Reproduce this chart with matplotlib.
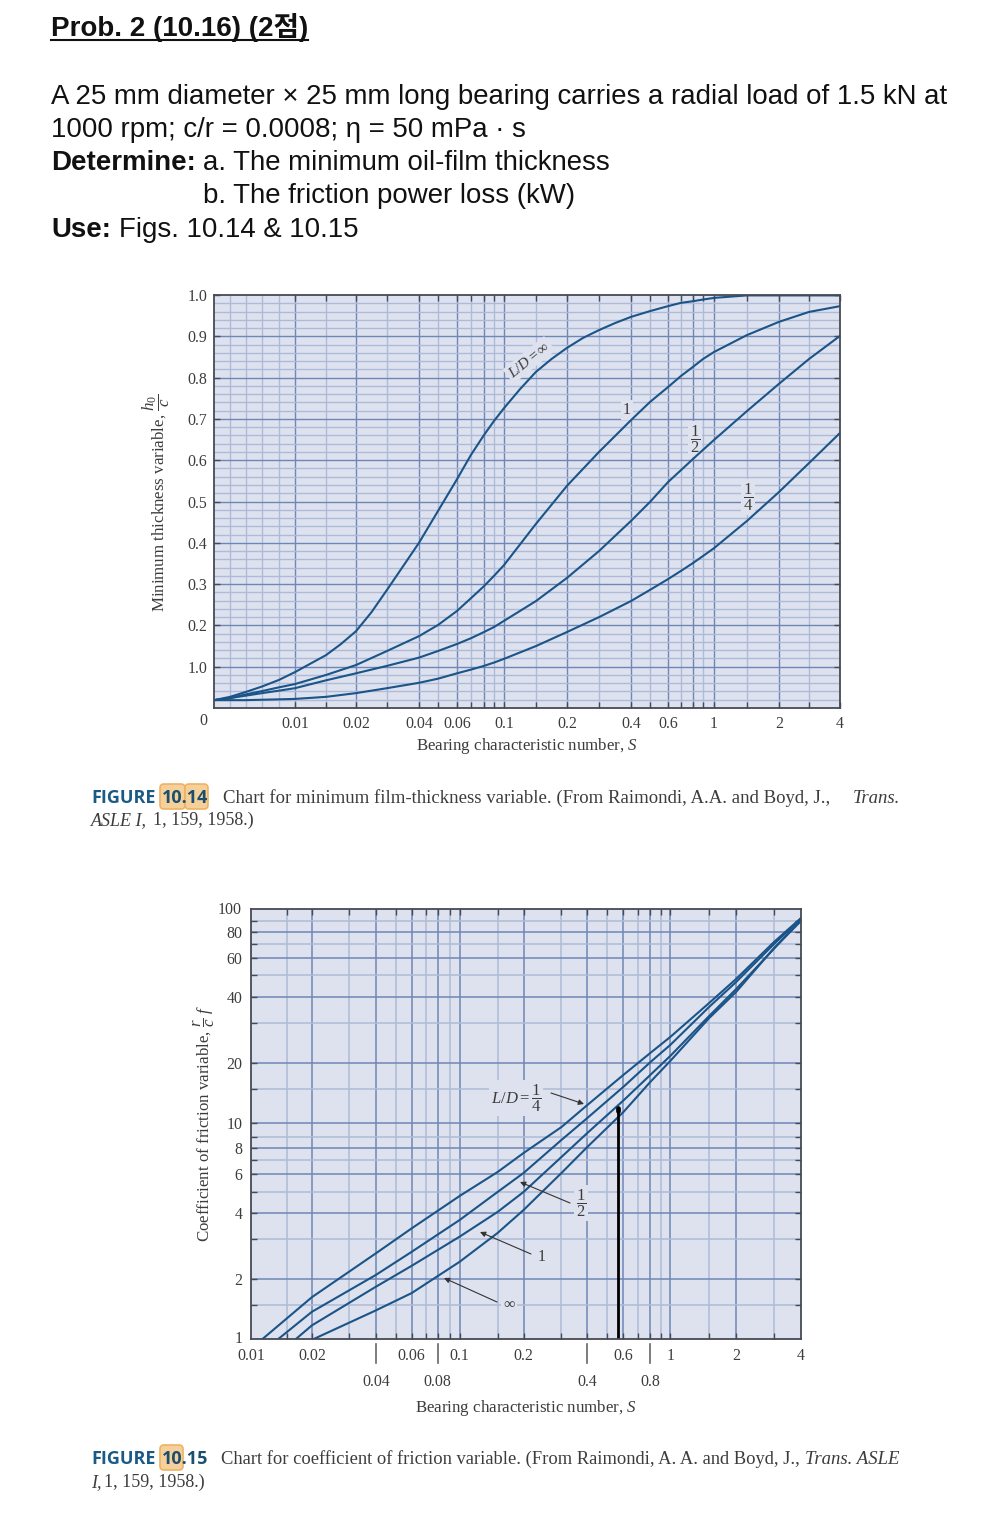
import numpy as np
import matplotlib
matplotlib.use('Agg')
import matplotlib.pyplot as plt
from matplotlib.patches import FancyBboxPatch

plt.rcParams['font.family'] = ['Liberation Serif', 'DejaVu Sans']
plt.rcParams['mathtext.fontset'] = 'custom'
plt.rcParams['mathtext.rm'] = 'Liberation Serif'
plt.rcParams['mathtext.it'] = 'Liberation Serif:italic'
plt.rcParams['mathtext.bf'] = 'Liberation Serif:bold'

# ---------- Figure 10.14 data ----------
S_GRID = [0, .002, .004, .006, .008, .01, .015, .02, .03, .04, .05, .06, .07, .08, .09, .1,
          .15, .2, .3, .4, .5, .6, .7, .8, .9, 1, 1.5, 2, 3, 4]
S_PIXEL = [214, 230, 246, 262, 279, 295, 326, 356, 387, 419, 438, 457, 471, 484, 494, 504,
           536, 567, 599, 631, 650, 668, 681, 693, 703, 714, 747, 779, 809, 840]
S_FINE = [0, .002, .004, .006, .008, .01, .015, .0175, .02, .025, .03, .035, .04, .05, .06, .07, .08, .09, .1,
          .125, .15, .175, .2, .25, .3, .35, .4, .5, .6, .7, .8, .9, 1, 1.5, 2, 3, 4]
HMIN_INF = [.019, .027, .039, .052, .068, .087, .128, .155, .186, .232, .286, .343, .4, .477, .554, .613, .661, .695, .726,
            .772, .814, .845, .872, .896, .915, .932, .947, .961, .973, .981, .985, .989, .993, .999, .999, .999, .999]
HMIN_ONE = [.019, .024, .033, .041, .05, .058, .08, .104, .138, .174, .201, .235, .266, .295, .32, .346,
            .446, .538, .62, .697, .741, .777, .804, .826, .845, .862, .903, .935, .959, .973]
HMIN_HALF = [.019, .024, .03, .036, .042, .048, .067, .084, .102, .122, .138, .155, .169, .184, .196, .211,
             .259, .315, .38, .453, .499, .547, .576, .603, .625, .649, .719, .785, .845, .901]
HMIN_QUARTER = [.019, .019, .019, .02, .021, .022, .027, .036, .048, .061, .071, .084, .093, .102, .11, .119,
                .15, .184, .22, .259, .286, .312, .332, .351, .368, .387, .453, .523, .593, .666]
H_TICKS = [.1, .2, .3, .4, .5, .6, .7, .8, .9, 1.0]
H_TICK_LABELS = ['1.0', '0.2', '0.3', '0.4', '0.5', '0.6', '0.7', '0.8', '0.9', '1.0']
S1_TICKS = [.01, .015, .02, .03, .04, .05, .06, .07, .08, .09, .1, .15, .2, .3, .4, .5, .6, .7, .8, .9, 1, 1.5, 2, 3, 4]
S1_LABELLED = {.01: '0.01', .02: '0.02', .04: '0.04', .06: '0.06', .1: '0.1', .2: '0.2', .4: '0.4',
               .6: '0.6', 1: '1', 2: '2', 4: '4'}
S1_DARK = [.01, .02, .04, .06, .08, .1, .2, .4, .6, .8, 1, 2]

# ---------- Figure 10.15 data ----------
S2_GRID = [.01, .015, .02, .03, .04, .05, .06, .07, .08, .09, .1, .15, .2, .3, .4, .5, .6, .7, .8, .9, 1, 1.5, 2, 3, 4]
S2_PIXEL = [251, 287, 312, 349, 376, 396, 412, 426, 438, 450, 460, 498, 524, 562, 588, 608, 624, 639, 651, 662, 671, 710, 737, 775, 802]
F_GRID = [1, 1.5, 2, 3, 4, 5, 6, 7, 8, 9, 10, 15, 20, 30, 40, 50, 60, 70, 80, 90, 100]
F_PIXEL = [1339, 1305, 1279, 1239, 1213, 1192, 1174, 1160, 1148, 1137, 1123, 1089, 1063, 1023, 997, 975, 958, 944, 932, 921, 909]
F_DARK = [2, 4, 6, 8, 10, 20, 40, 60, 80]
S2_DARK = [.02, .04, .06, .08, .1, .2, .4, .6, .8, 1, 2]
F_LABELS = {1: '1', 2: '2', 4: '4', 6: '6', 8: '8', 10: '10', 20: '20', 40: '40', 60: '60', 80: '80', 100: '100'}
S2_ROW1 = {.01: '0.01', .02: '0.02', .06: '0.06', .1: '0.1', .2: '0.2', .6: '0.6', 1: '1', 2: '2', 4: '4'}
S2_ROW2 = {.04: '0.04', .08: '0.08', .4: '0.4', .8: '0.8'}

S_TAIL = [.04, .06, .1, .15, .2, .3, .4, .6, .8, 1, 1.5, 2, 3, 4]
S_QUARTER = [.0116, .02] + S_TAIL
F_QUARTER = [1, 1.65, 2.64, 3.41, 4.81, 6.14, 7.58, 9.71, 12.65, 17.7, 22.5, 26.5, 37.7, 48.2, 71.7, 92.5]
S_HALF = [.0138, .02] + S_TAIL
F_HALF = [1, 1.4, 2.1, 2.68, 3.73, 5, 6.07, 8.73, 10.74, 15.4, 20.2, 24.5, 36.2, 46.8, 70, 91.7]
S_ONE = [.0168, .02] + S_TAIL
F_ONE = [1, 1.2, 1.85, 2.33, 3.09, 4.05, 5, 7.25, 9.29, 13.3, 17.7, 21.75, 32.7, 43.6, 66.7, 90.8]
S_INF = [.0205] + S_TAIL
F_INF = [1, 1.42, 1.73, 2.43, 3.23, 4.14, 6.07, 8.1, 11.6, 16.35, 20.5, 31.9, 42.3, 67.1, 90]
MARK_S = [.565, .565]
MARK_F = [1, 11.9]
MARK_TOP = [11.7, 12.2]

# ---------- styles ----------
BG = '#dde2ee'
DARK = '#6f86b6'
LIGHT = '#aebad7'
CURVE = '#1b5488'
FRAME = '#454a55'
INK = '#3c3c3c'
W, H = 1000, 1520

fig = plt.figure(figsize=(W / 100, H / 100), dpi=100, facecolor='white')


def piecewise(values, pixels):
    values = np.array(values, float)
    pixels = np.array(pixels, float)
    return (lambda v: np.interp(v, values, pixels),
            lambda p: np.interp(p, pixels, values))


def style(ax):
    ax.set_facecolor(BG)
    for sp in ax.spines.values():
        sp.set_color(FRAME)
        sp.set_linewidth(1.3)
        sp.set_zorder(6)
    ax.tick_params(which='major', direction='in', top=True, right=True, length=4.6, width=1.0,
                   color=FRAME, labelcolor=INK, labelsize=11.4)


# ---------- overlay for text ----------
ov = fig.add_axes([0, 0, 1, 1], zorder=10)
ov.set_xlim(0, W)
ov.set_ylim(H, 0)
ov.axis('off')

# ---------- chart 1 ----------
ax1 = fig.add_axes([214 / W, 1 - 708 / H, 626 / W, 413 / H])
ax1.set_xscale('function', functions=piecewise(S_GRID, S_PIXEL))
ax1.set_xlim(0, 4)
ax1.set_ylim(0, 1)
style(ax1)
for s in S_GRID[1:-1]:
    ax1.axvline(s, color=DARK if s in S1_DARK else LIGHT, lw=1.0, zorder=1)
for h in np.arange(2, 100, 2) / 100:
    major = abs(h * 10 - round(h * 10)) < 1e-6
    ax1.axhline(h, color=DARK if major else LIGHT, lw=1.0, zorder=1)
ax1.set_xticks(S1_TICKS)
ax1.set_xticklabels([S1_LABELLED.get(s, '') for s in S1_TICKS])
ax1.set_yticks(H_TICKS)
ax1.set_yticklabels(H_TICK_LABELS)
ax1.tick_params(axis='x', pad=6)
ax1.tick_params(axis='y', pad=5)
ax1.plot(S_FINE, HMIN_INF, color=CURVE, lw=1.5, zorder=4)
for series in (HMIN_ONE, HMIN_HALF, HMIN_QUARTER):
    ax1.plot(S_GRID, series, color=CURVE, lw=1.5, zorder=4)


def lab(ax, x, y, s, size=11, rot=0):
    ax.text(x, y, s, transform=ov.transData, fontsize=size, rotation=rot, rotation_mode='anchor',
            ha='center', va='center', color=INK, zorder=3,
            bbox=dict(facecolor=BG, edgecolor='none', pad=1.5))


lab(ax1, 529, 360, r'$L/D = \infty$', 11, 39)
lab(ax1, 627, 410, '1', 11.5)
lab(ax1, 695, 439, r'$\dfrac{1}{2}$', 12)
lab(ax1, 748, 497, r'$\dfrac{1}{4}$', 12)

ov.text(203, 721, '0', fontsize=11.4, color=INK, ha='center', va='center')
ov.text(527, 746, r'Bearing characteristic number, $S$', fontsize=12.2, color=INK, ha='center', va='center')
ov.text(156, 503, r'Minimum thickness variable, $\dfrac{h_0}{c}$', fontsize=12.2, color=INK,
        rotation=90, ha='center', va='center')

# ---------- chart 2 ----------
ax2 = fig.add_axes([251 / W, 1 - 1339 / H, 550 / W, 430 / H])
ax2.set_xscale('function', functions=piecewise(S2_GRID, S2_PIXEL))
ax2.set_yscale('function', functions=piecewise(F_GRID, [1339 - p for p in F_PIXEL]))
ax2.set_xlim(.01, 4)
ax2.set_ylim(1, 100)
style(ax2)
for s in S2_GRID[1:-1]:
    ax2.axvline(s, color=DARK if s in S2_DARK else LIGHT, lw=1.1, zorder=1)
for f in F_GRID[1:-1]:
    ax2.axhline(f, color=DARK if f in F_DARK else LIGHT, lw=1.1, zorder=1)
ax2.set_xticks(S2_GRID[1:-1])
ax2.set_xticklabels([''] * len(S2_GRID[1:-1]))
ax2.set_yticks(F_GRID[1:-1])
ax2.set_yticklabels([F_LABELS.get(f, '') for f in F_GRID[1:-1]])
ax2.tick_params(axis='y', pad=6)
trans = ax2.get_xaxis_transform()
for s, t in S2_ROW1.items():
    ax2.text(s, -16.5 / 430, t, transform=trans, ha='center', va='center', fontsize=11.4, color=INK, clip_on=False)
for s, t in S2_ROW2.items():
    ax2.plot([s, s], [-5 / 430, -24 / 430], transform=trans, color='#666666', lw=1.2, clip_on=False)
    ax2.text(s, -42.5 / 430, t, transform=trans, ha='center', va='center', fontsize=11.4, color=INK, clip_on=False)
ov.text(239, 1339, '1', fontsize=11.4, color=INK, ha='center', va='center')
ov.text(230, 910, '100', fontsize=11.4, color=INK, ha='center', va='center')
for sx, fy in ((S_QUARTER, F_QUARTER), (S_HALF, F_HALF), (S_ONE, F_ONE), (S_INF, F_INF)):
    ax2.plot(sx, fy, color=CURVE, lw=1.5, zorder=4)
ax2.plot(MARK_S, MARK_F, color='black', lw=2.0, zorder=5, solid_capstyle='butt')
ax2.plot(MARK_S, MARK_TOP, color='black', lw=3.4, zorder=5, solid_capstyle='round')

lab(ax2, 516, 1098, r'$L/D = \dfrac{1}{4}$', 12)
lab(ax2, 581, 1203, r'$\dfrac{1}{2}$', 12)
lab(ax2, 542, 1257, '1', 11.5)
lab(ax2, 509, 1303, r'$\infty$', 11.5)
for tail, tip in (((551, 1093), (584, 1104)), ((570, 1203), (520, 1182)),
                  ((531, 1254), (480, 1232)), ((497, 1302), (444, 1278))):
    ov.annotate('', xy=tip, xytext=tail,
                arrowprops=dict(arrowstyle='-|>', lw=0.8, color='#333333', shrinkA=0, shrinkB=0, mutation_scale=8))

ov.text(526, 1408, r'Bearing characteristic number, $S$', fontsize=12.2, color=INK, ha='center', va='center')
ov.text(204, 1123, r'Coefficient of friction variable, $\dfrac{r}{c}\ f$', fontsize=12.2, color=INK,
        rotation=90, ha='center', va='center')

# ---------- header ----------
SANS = ['Liberation Sans', 'Noto Sans CJK KR', 'DejaVu Sans']


def head(x, y, s, bold=False, size=19.9):
    ov.text(x, y, s, family=SANS, fontsize=size, fontweight='bold' if bold else 'normal',
            color='#111111', ha='left', va='baseline')


head(51, 36, 'Prob. 2 (10.16) (2점)', True, 20)
ov.plot([51, 308], [40, 40], color='#111111', lw=1.5)
head(51, 104, 'A 25 mm diameter × 25 mm long bearing carries a radial load of 1.5 kN at')
head(51, 137, '1000 rpm; c/r = 0.0008; η = 50 mPa · s')
head(51, 170, 'Determine:', True)
head(203, 170, 'a. The minimum oil-film thickness')
head(203, 203, 'b. The friction power loss (kW)')
head(51, 237, 'Use:', True)
head(119, 237, 'Figs. 10.14 & 10.15')


# ---------- captions ----------
def hl(x0, x1, y0, y1):
    ov.add_patch(FancyBboxPatch((x0 + 3, y0 + 3), x1 - x0 - 6, y1 - y0 - 6,
                                boxstyle='round,pad=3,rounding_size=4',
                                facecolor='#f6d09a', edgecolor='#efb262', lw=1.2, zorder=0))


CAP = 13.5


def caption(y1, num, body, bx, tail, tx, size=CAP):
    ov.text(91, y1, 'FIGURE', family='Open Sans', fontweight='bold', fontsize=13, color='#1c5a86', va='baseline')
    ov.text(162, y1, num, family='Open Sans', fontweight='bold', fontsize=13, color='#1c4f6e', va='baseline')
    ov.text(bx, y1, body, fontsize=size, color=INK, va='baseline')
    ov.text(tx, y1, tail, fontsize=CAP, color=INK, va='baseline', style='italic')


hl(160, 185, 784, 809)
hl(185, 208, 784, 809)
caption(803, '10.14', 'Chart for minimum film-thickness variable. (From Raimondi, A.A. and Boyd, J.,', 223,
        'Trans.', 853)
ov.text(91, 825, 'ASLE I,', fontsize=13, color=INK, va='baseline', style='italic')
ov.text(153, 825, '1, 159, 1958.)', fontsize=13, color=INK, va='baseline')
hl(160, 183, 1445, 1470)
caption(1464, '10.15', 'Chart for coefficient of friction variable. (From Raimondi, A. A. and Boyd, J.,', 221,
        'Trans. ASLE', 805, 13.3)
ov.text(91, 1487, 'I,', fontsize=13, color=INK, va='baseline', style='italic')
ov.text(104, 1487, '1, 159, 1958.)', fontsize=13, color=INK, va='baseline')

fig.savefig('out.png', dpi=100, facecolor='white')
